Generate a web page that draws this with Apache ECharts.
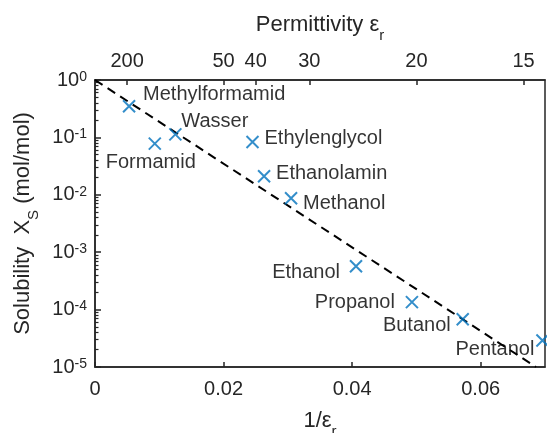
<!DOCTYPE html>
<html>
<head>
<meta charset="utf-8">
<script src="https://cdn.jsdelivr.net/npm/echarts@6/dist/echarts.min.js"></script>
<style>
  html, body { margin: 0; padding: 0; background: #fff; }
  #chart { width: 547px; height: 433px; }
</style>
</head>
<body>
<div id="chart"></div>
<script>
// Solvents, inverse permittivity 1/eps_r and mole-fraction solubility X_S
const solvents = ['Methylformamid', 'Formamid', 'Wasser', 'Ethylenglycol', 'Ethanolamin',
                  'Methanol', 'Ethanol', 'Propanol', 'Butanol', 'Pentanol'];
const invPermittivity = [0.0053, 0.0093, 0.0125, 0.0245, 0.0263, 0.0305, 0.0406, 0.0493, 0.0572, 0.0696];
const solubility = [0.35, 0.078, 0.113, 0.083, 0.021, 0.0087, 0.00057, 0.000135, 0.000068, 0.000029];

// Trend line (log-linear fit) end points
const fitX = [0, 0.0686];
const fitY = [1, 1e-5];

// Axis ticks
const invPermittivityTicks = [0, 0.02, 0.04, 0.06];
const permittivityTicks = [200, 50, 40, 30, 20, 15];
const logDecades = [-5, -4, -3, -2, -1, 0];

// Where each solvent name sits relative to its marker
const labelPlacement = {
  Methylformamid: { align: 'left',   offset: [14, -12] },
  Formamid:       { align: 'center', offset: [-4, 19] },
  Wasser:         { align: 'left',   offset: [6, -13] },
  Ethylenglycol:  { align: 'left',   offset: [12, -4] },
  Ethanolamin:    { align: 'left',   offset: [12, -3] },
  Methanol:       { align: 'left',   offset: [12, 5] },
  Ethanol:        { align: 'right',  offset: [-16, 6] },
  Propanol:       { align: 'right',  offset: [-17, 0] },
  Butanol:        { align: 'right',  offset: [-12, 6] },
  Pentanol:       { align: 'right',  offset: [-8, 9] }
};

const FONT = "'Liberation Sans', Arial, Helvetica, sans-serif";
const AXIS_COLOR = '#262626';
const MARKER_COLOR = '#0072BD';

// minor ticks of the log axis, expressed as log10 positions
const minorLogTicks = [];
for (let d = logDecades[0]; d < logDecades[logDecades.length - 1]; d++) {
  for (let m = 2; m <= 9; m++) minorLogTicks.push(d + Math.log10(m));
}

const titleRich = {
  t:   { fontFamily: FONT, fontSize: 22, lineHeight: 22, verticalAlign: 'top', color: AXIS_COLOR },
  sub: { fontFamily: FONT, fontSize: 15, lineHeight: 15, padding: [14, 0, 0, 0], verticalAlign: 'top', color: AXIS_COLOR }
};

const chart = echarts.init(document.getElementById('chart'), null, { renderer: 'canvas' });

const scatterData = solvents.map((name, i) => {
  const p = labelPlacement[name];
  return {
    name: name,
    value: [invPermittivity[i], solubility[i]],
    label: {
      show: true,
      position: 'inside',
      align: p.align,
      verticalAlign: 'middle',
      offset: p.offset,
      formatter: name,
      fontFamily: FONT,
      fontSize: 20,
      color: '#000'
    }
  };
});

chart.setOption({
  animation: false,
  backgroundColor: '#fff',
  grid: {
    left: 95, right: 2, top: 80, bottom: 66,
    outerBoundsMode: 'none',
    show: true, borderColor: AXIS_COLOR, borderWidth: 1.5
  },
  xAxis: [
    {
      type: 'value', position: 'bottom', min: 0, max: 0.07,
      name: '{t|1/ε}{sub|r}', nameLocation: 'middle', nameGap: 43,
      nameTextStyle: { rich: titleRich },
      axisLine: { show: true, onZero: false, lineStyle: { color: AXIS_COLOR, width: 1.5 } },
      axisTick: { show: true, inside: true, length: 5, customValues: invPermittivityTicks,
                  lineStyle: { color: AXIS_COLOR, width: 1.5 } },
      axisLabel: { customValues: invPermittivityTicks, margin: 12, fontFamily: FONT, fontSize: 20, color: AXIS_COLOR,
                   formatter: v => (v === 0 ? '0' : String(v)) },
      splitLine: { show: false }
    },
    {
      type: 'value', position: 'top', min: 0, max: 0.07,
      name: '{t|Permittivity ε}{sub|r}', nameLocation: 'middle', nameGap: 44,
      nameTextStyle: { rich: titleRich },
      axisLine: { show: true, onZero: false, lineStyle: { color: AXIS_COLOR, width: 1.5 } },
      axisTick: { show: true, inside: true, length: 5, customValues: permittivityTicks.map(e => 1 / e),
                  lineStyle: { color: AXIS_COLOR, width: 1.5 } },
      axisLabel: { customValues: permittivityTicks.map(e => 1 / e), margin: 9, fontFamily: FONT, fontSize: 20,
                   color: AXIS_COLOR, formatter: v => String(Math.round(1 / v)) },
      splitLine: { show: false }
    }
  ],
  yAxis: [
    {
      type: 'log', logBase: 10, min: 1e-5, max: 1, position: 'left',
      name: '{t|Solubility  X}{sub|S}{t| (mol/mol)}', nameLocation: 'middle', nameGap: 55,
      nameTextStyle: { rich: titleRich },
      axisLine: { show: true, onZero: false, lineStyle: { color: AXIS_COLOR, width: 1.5 } },
      axisTick: { show: true, inside: true, length: 6, lineStyle: { color: AXIS_COLOR, width: 1.5 } },
      axisLabel: {
        margin: 8, color: AXIS_COLOR,
        formatter: v => '{b|10}{s|' + Math.round(Math.log10(v)) + '}',
        rich: {
          b: { fontFamily: FONT, fontSize: 20, lineHeight: 20, padding: [5, 0, 0, 0], verticalAlign: 'bottom', color: AXIS_COLOR },
          s: { fontFamily: FONT, fontSize: 14, lineHeight: 14, verticalAlign: 'top', color: AXIS_COLOR }
        }
      },
      splitLine: { show: false }
    },
    {
      // carries the minor ticks of the log axis (log10 positions on a linear scale)
      type: 'value', min: logDecades[0], max: logDecades[logDecades.length - 1], position: 'left',
      axisLine: { show: false, onZero: false },
      axisTick: { show: true, inside: true, length: 3.5, customValues: minorLogTicks,
                  lineStyle: { color: AXIS_COLOR, width: 1.2 } },
      axisLabel: { show: false },
      splitLine: { show: false }
    }
  ],
  series: [
    {
      type: 'line',
      xAxisIndex: 0, yAxisIndex: 0,
      data: fitX.map((x, i) => [x, fitY[i]]),
      symbol: 'none',
      lineStyle: { color: '#000', width: 2, type: [9, 6] },
      silent: true,
      z: 2
    },
    {
      type: 'scatter',
      xAxisIndex: 0, yAxisIndex: 0,
      symbol: 'path://M0,0L10,10M10,0L0,10',
      symbolSize: 12,
      itemStyle: { color: 'none', borderColor: MARKER_COLOR, borderWidth: 2 },
      data: scatterData,
      z: 3
    }
  ]
});
</script>
</body>
</html>
